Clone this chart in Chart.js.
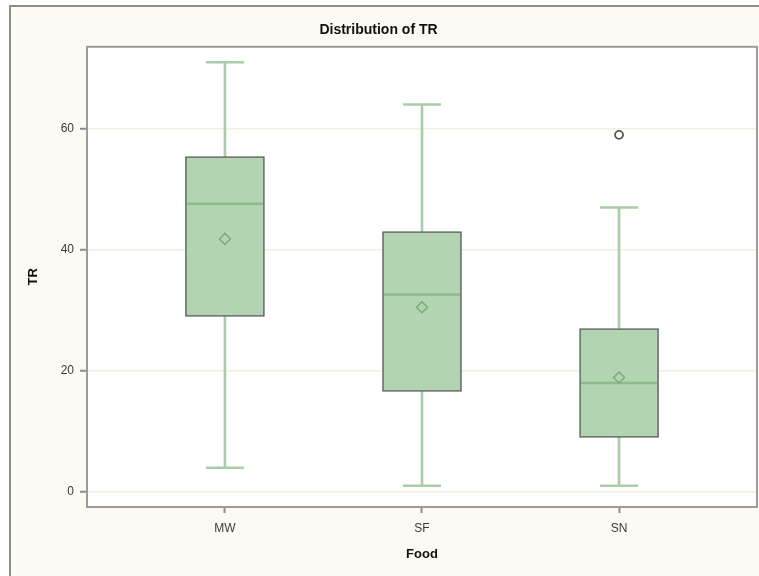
<!DOCTYPE html>
<html lang="en">
<head>
    <meta charset="UTF-8" />
    <title>Distribution of TR</title>
    <style>
        body {
            margin: 0;
            background: #ffffff;
            overflow: hidden;
        }

        #frame {
            position: absolute;
            left: 9px;
            top: 5px;
            width: 770px;
            height: 590px;
            border: 2px solid #8e8e86;
            background: #fdfaf5;
        }

        #chart {
            position: absolute;
            left: 0;
            top: 0;
        }
    </style>
    <script src="https://cdn.jsdelivr.net/npm/chart.js"></script>
</head>

<body>
    <div id="frame"></div>
    <canvas id="chart" width="759" height="576"></canvas>

    <script>
        // box statistics per food group
        const categories = ["MW", "SF", "SN"];
        const mins = [4, 1, 1];
        const q1s = [29, 16.6, 9];
        const medians = [47.6, 32.6, 18];
        const q3s = [55.4, 43, 27];
        const maxs = [71, 64, 47];
        const means = [41.8, 30.5, 18.9];
        const outlierCats = ["SN"];
        const outlierValues = [59];
        const yTicks = [0, 20, 40, 60];

        const fontFamily = "'Liberation Sans', Arial, sans-serif";
        const boxFill = "#b3d4b1";
        const whiskerColor = "#a9cda7";

        const xOf = cat => categories.indexOf(cat) + 1;

        // higher order = drawn earlier (underneath)
        function whiskerSet(lows, highs) {
            return {
                type: 'bar',
                order: 6,
                data: categories.map((c, i) => ({ x: i + 1, y: [lows[i], highs[i]] })),
                backgroundColor: whiskerColor,
                barThickness: 2,
                grouped: false,
                borderWidth: 0
            };
        }

        function lineMarks(values, color, radius, order) {
            return {
                type: 'scatter',
                order: order,
                data: categories.map((c, i) => ({ x: i + 1, y: values[i] })),
                pointStyle: 'line',
                pointRadius: radius,
                borderColor: color,
                borderWidth: 2.5
            };
        }

        const plotFrame = {
            id: 'plotFrame',
            beforeDraw(chart) {
                const { ctx, chartArea: a } = chart;
                ctx.save();
                ctx.fillStyle = "#ffffff";
                ctx.fillRect(a.left, a.top, a.right - a.left, a.bottom - a.top);
                ctx.restore();
            },
            afterDraw(chart) {
                const { ctx, chartArea: a } = chart;
                ctx.save();
                ctx.strokeStyle = "#9c9c96";
                ctx.lineWidth = 2;
                ctx.strokeRect(a.left, a.top, a.right - a.left, a.bottom - a.top);
                ctx.restore();
            }
        };

        new Chart(document.getElementById("chart"), {
            type: 'bar',
            data: {
                datasets: [
                    whiskerSet(mins, q1s),
                    whiskerSet(q3s, maxs),
                    lineMarks(mins, whiskerColor, 19, 5),
                    lineMarks(maxs, whiskerColor, 19, 5),
                    {
                        type: 'bar',
                        order: 4,
                        data: categories.map((c, i) => ({ x: i + 1, y: [q1s[i], q3s[i]] })),
                        backgroundColor: boxFill,
                        borderColor: "#5c5c5c",
                        borderWidth: 1.5,
                        borderSkipped: false,
                        barThickness: 79,
                        grouped: false
                    },
                    lineMarks(medians, "#8db98b", 38, 3),
                    {
                        type: 'scatter',
                        order: 2,
                        data: categories.map((c, i) => ({ x: i + 1, y: means[i] })),
                        pointStyle: 'rectRot',
                        pointRadius: 5.5,
                        borderColor: "#7aab78",
                        backgroundColor: 'rgba(0,0,0,0)',
                        borderWidth: 1.5
                    },
                    {
                        type: 'scatter',
                        order: 1,
                        data: outlierCats.map((c, i) => ({ x: xOf(c), y: outlierValues[i] })),
                        pointStyle: 'circle',
                        pointRadius: 4,
                        borderColor: "#555555",
                        backgroundColor: 'rgba(0,0,0,0)',
                        borderWidth: 1.8
                    }
                ]
            },
            options: {
                responsive: false,
                animation: false,
                layout: {
                    autoPadding: false,
                    padding: { left: 0, right: 2, top: 0, bottom: 0 }
                },
                plugins: {
                    legend: { display: false },
                    tooltip: { enabled: false },
                    title: {
                        display: true,
                        text: "Distribution of TR",
                        color: "#111111",
                        font: { family: fontFamily, size: 14, weight: 'bold' },
                        padding: { top: 22, bottom: 8 }
                    }
                },
                scales: {
                    x: {
                        type: 'linear',
                        min: 0.3,
                        max: 3.7,
                        offset: false,
                        afterBuildTicks: scale => {
                            scale.ticks = categories.map((c, i) => ({ value: i + 1 }));
                        },
                        afterFit: scale => { scale.height = 69; },
                        ticks: {
                            autoSkip: false,
                            maxRotation: 0,
                            padding: 8,
                            color: "#3a3a3a",
                            font: { family: fontFamily, size: 12 },
                            callback: value => categories[value - 1]
                        },
                        grid: {
                            offset: false,
                            drawOnChartArea: false,
                            tickLength: 6,
                            tickColor: "#8c8c8c",
                            tickWidth: 2
                        },
                        border: { display: false },
                        title: {
                            display: true,
                            text: "Food",
                            color: "#111111",
                            font: { family: fontFamily, size: 13, weight: 'bold' },
                            padding: { top: 0, bottom: 14 }
                        }
                    },
                    y: {
                        min: -2.5,
                        max: 73.55,
                        afterBuildTicks: scale => {
                            scale.ticks = yTicks.map(v => ({ value: v }));
                        },
                        afterFit: scale => { scale.width = 87; },
                        ticks: {
                            padding: 6,
                            color: "#3a3a3a",
                            font: { family: fontFamily, size: 12 }
                        },
                        grid: {
                            color: "#f0f0df",
                            lineWidth: 1.5,
                            tickLength: 7,
                            tickColor: "#8c8c8c",
                            tickWidth: 2
                        },
                        border: { display: false },
                        title: {
                            display: true,
                            text: "TR",
                            color: "#111111",
                            font: { family: fontFamily, size: 13, weight: 'bold' },
                            padding: { top: 26, bottom: 0 }
                        }
                    }
                }
            },
            plugins: [plotFrame]
        });
    </script>
</body>
</html>
